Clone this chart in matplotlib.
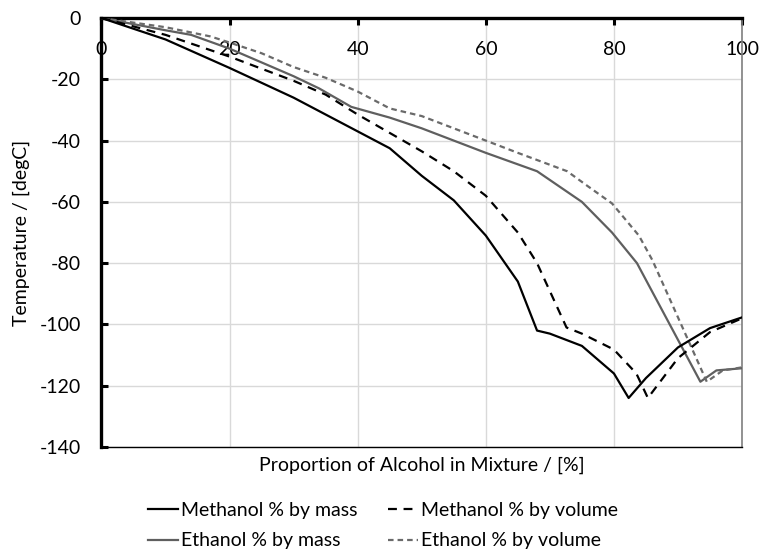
import matplotlib
matplotlib.use("Agg")
import matplotlib.pyplot as plt

plt.rcParams['font.family'] = ['Lato', 'DejaVu Sans']
plt.rcParams['axes.unicode_minus'] = False

# Data
meth_mass_x = [0, 10, 20, 30, 40, 45, 50, 55, 60, 65, 68, 70, 75, 80, 82.3, 85, 90, 95, 100]
meth_mass_y = [0, -7, -16.3, -26, -37, -42.5, -51.5, -59.5, -71, -86, -102, -103, -107, -116, -124, -117.5, -107.5, -101.2, -97.7]

meth_vol_x = [0, 10, 20, 30, 35, 40, 45, 50, 55, 60, 65, 68, 72.6, 75, 80, 83.5, 85.3, 90, 95, 100]
meth_vol_y = [0, -5.5, -12.6, -20.5, -25, -31.5, -37.5, -43.5, -50, -58, -70, -80, -101, -103, -108.2, -116, -124, -111, -102.5, -98]

eth_mass_x = [0, 5, 10, 14, 20, 25, 30, 34, 39, 45, 50, 55, 60, 68, 75, 79.7, 83.6, 93.5, 96, 100]
eth_mass_y = [0, -2, -4, -5.5, -10, -14.5, -19, -23, -29, -32.5, -36, -40, -44, -50, -60, -70, -80, -118.7, -115, -114.3]

eth_vol_x = [0, 10, 17, 20, 25, 30, 35, 40, 45, 50, 55, 60, 65, 72.7, 76, 79.7, 83.9, 86, 94.5, 97, 100]
eth_vol_y = [0, -3, -6, -8, -11.5, -16, -19.5, -24, -29.5, -32, -36, -40, -44, -50, -55, -60.5, -71, -79, -118.7, -115, -114]

x_ticks = [0, 20, 40, 60, 80, 100]
y_ticks = [0, -20, -40, -60, -80, -100, -120, -140]
y_tick_labels = ['0', '-20', '-40', '-60', '-80', '-100', '-120', '-140']

fig = plt.figure(figsize=(7.66, 5.58), dpi=100)
ax = fig.add_axes([0.1325, 0.1989, 0.8362, 0.7688])

l_mm, = ax.plot(meth_mass_x, meth_mass_y, color='black', lw=1.6, label='Methanol % by mass', zorder=5)
l_mv, = ax.plot(meth_vol_x, meth_vol_y, color='black', lw=1.6, ls=(0, (4, 3)), label='Methanol % by volume', zorder=5)
l_em, = ax.plot(eth_mass_x, eth_mass_y, color='#5f5f5f', lw=1.6, label='Ethanol % by mass', zorder=4)
l_ev, = ax.plot(eth_vol_x, eth_vol_y, color='#6a6a6a', lw=1.6, ls=(0, (2.5, 1.8)), label='Ethanol % by volume', zorder=4)

ax.set_xlim(0, 100)
ax.set_ylim(-140, 0)
ax.set_xticks(x_ticks)
ax.set_xticklabels([str(v) for v in x_ticks])
ax.set_yticks(y_ticks)
ax.set_yticklabels(y_tick_labels)

ax.grid(True, color='#d9d9d9', lw=1.0, zorder=0)
ax.set_axisbelow(True)

FS = 14
ax.xaxis.tick_top()
ax.tick_params(axis='x', direction='in', length=5, width=2.2, pad=-29, labelsize=FS, colors='black')
ax.tick_params(axis='y', direction='in', length=5, width=2.2, pad=15, labelsize=FS)

for s in ['left', 'top']:
    ax.spines[s].set_linewidth(2.4)
    ax.spines[s].set_color('black')
ax.spines['bottom'].set_linewidth(1.0)
ax.spines['bottom'].set_color('black')
ax.spines['right'].set_linewidth(1.2)
ax.spines['right'].set_color('#7f7f7f')

ax.set_ylabel('Temperature / [degC]', fontsize=FS)
ax.yaxis.set_label_coords(-0.112, 0.5)
fig.text(0.5506, 1 - 465 / 558, 'Proportion of Alcohol in Mixture / [%]', ha='center', va='center', fontsize=FS)

fig.legend([l_mm, l_em, l_mv, l_ev],
           [l_mm.get_label(), l_em.get_label(), l_mv.get_label(), l_ev.get_label()],
           loc='center', bbox_to_anchor=(0.5, 1 - 525.5 / 558), ncol=2, frameon=False,
           fontsize=FS, handlelength=1.55, handletextpad=0.15, columnspacing=1.6, labelspacing=0.7)

fig.savefig('out.png', dpi=100)
